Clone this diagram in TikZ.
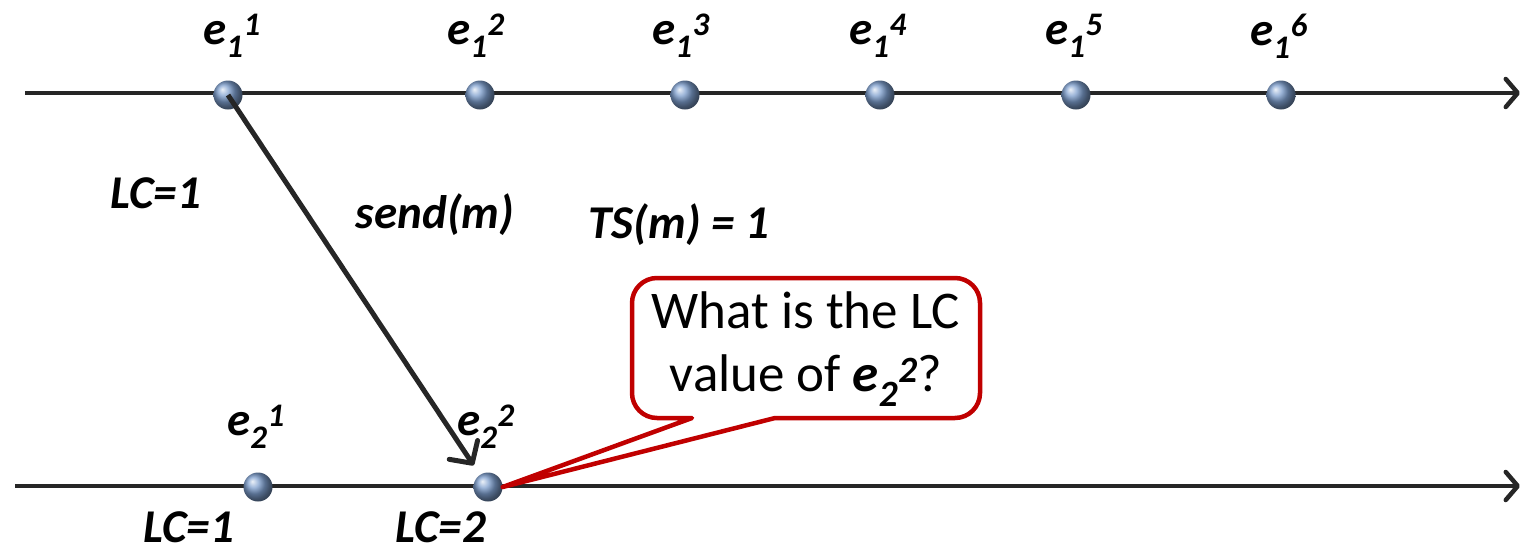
\documentclass[tikz,border=0pt]{standalone}
\usepackage{fontspec}
\setmainfont{Carlito}
\usetikzlibrary{arrows.meta}
\definecolor{linec}{RGB}{38,38,38}
\definecolor{dotc}{RGB}{125,158,205}
\definecolor{calloutred}{RGB}{192,0,0}
\newcommand\evt[2]{e\textsubscript{#1}\textsuperscript{#2}}
\begin{document}
\begin{tikzpicture}[x=1pt,y=1pt,
  timeline/.style={draw=linec,line width=4.5pt,-{Straight Barb[length=12pt,width=28pt,line cap=round,line join=round]}},
  msg/.style={draw=linec,line width=5pt,-{Straight Barb[length=16pt,width=34pt,line cap=round,line join=round]}},
  evdot/.style={circle,minimum size=29pt,inner sep=0pt,ball color=dotc,draw=none},
  lbl/.style={font=\fontsize{47}{56}\selectfont\bfseries\itshape,text=black,inner sep=0pt},
  callout/.style={draw=calloutred,line width=4.5pt,fill=white,line join=round},
  qtext/.style={font=\fontsize{53}{63}\selectfont,align=center,inner sep=0pt}
]
\useasboundingbox (0,0) rectangle (1522,-552);
% timelines
\coordinate (t1s) at (25,-93);
\coordinate (t1e) at (1520,-93);
\coordinate (t2s) at (15,-486);
\coordinate (t2e) at (1520,-486);
\draw[timeline] (t1s) -- (t1e);
\draw[timeline] (t2s) -- (t2e);
% dots
\node[evdot] (n11) at (228,-95) {};
\node[evdot] (n12) at (480,-95) {};
\node[evdot] (n13) at (685,-95) {};
\node[evdot] (n14) at (880,-95) {};
\node[evdot] (n15) at (1076,-95) {};
\node[evdot] (n16) at (1281,-95) {};
\node[evdot] (n21) at (258,-487) {};
\node[evdot] (n22) at (488,-487) {};
% labels
\node[lbl] (l11) at (232,-36) {\evt{1}{1}};
\node[lbl] (l12) at (476,-36) {\evt{1}{2}};
\node[lbl] (l13) at (681,-36) {\evt{1}{3}};
\node[lbl] (l14) at (878,-36) {\evt{1}{4}};
\node[lbl] (l15) at (1074,-36) {\evt{1}{5}};
\node[lbl] (l16) at (1279,-36) {\evt{1}{6}};
\node[lbl] (l21) at (256,-427) {\evt{2}{1}};
\node[lbl] (l22) at (486,-427) {\evt{2}{2}};
\node[lbl] (lc1) at (156,-193) {LC=1};
\node[lbl] (send) at (435,-215) {send(m)};
\node[lbl] (ts) at (679,-225) {TS(m) = 1};
\node[lbl] (lc21) at (189,-527) {LC=1};
\node[lbl] (lc22) at (441,-527) {LC=2};
% message
\draw[msg, shorten >=26pt] (n11.center) -- (n22.center);
% callout
\draw[callout] (n22.east) -- (775,-418) -- (955,-418)
  arc[start angle=-90,end angle=0,radius=25] -- (980,-303)
  arc[start angle=0,end angle=90,radius=25] -- (657,-278)
  arc[start angle=90,end angle=180,radius=25] -- (632,-393)
  arc[start angle=180,end angle=270,radius=25] -- (692,-418) -- cycle;
\node[qtext] (q) at (806,-349) {What is the LC\\value of {\bfseries\itshape\evt{2}{2}}?};
\end{tikzpicture}
\end{document}
